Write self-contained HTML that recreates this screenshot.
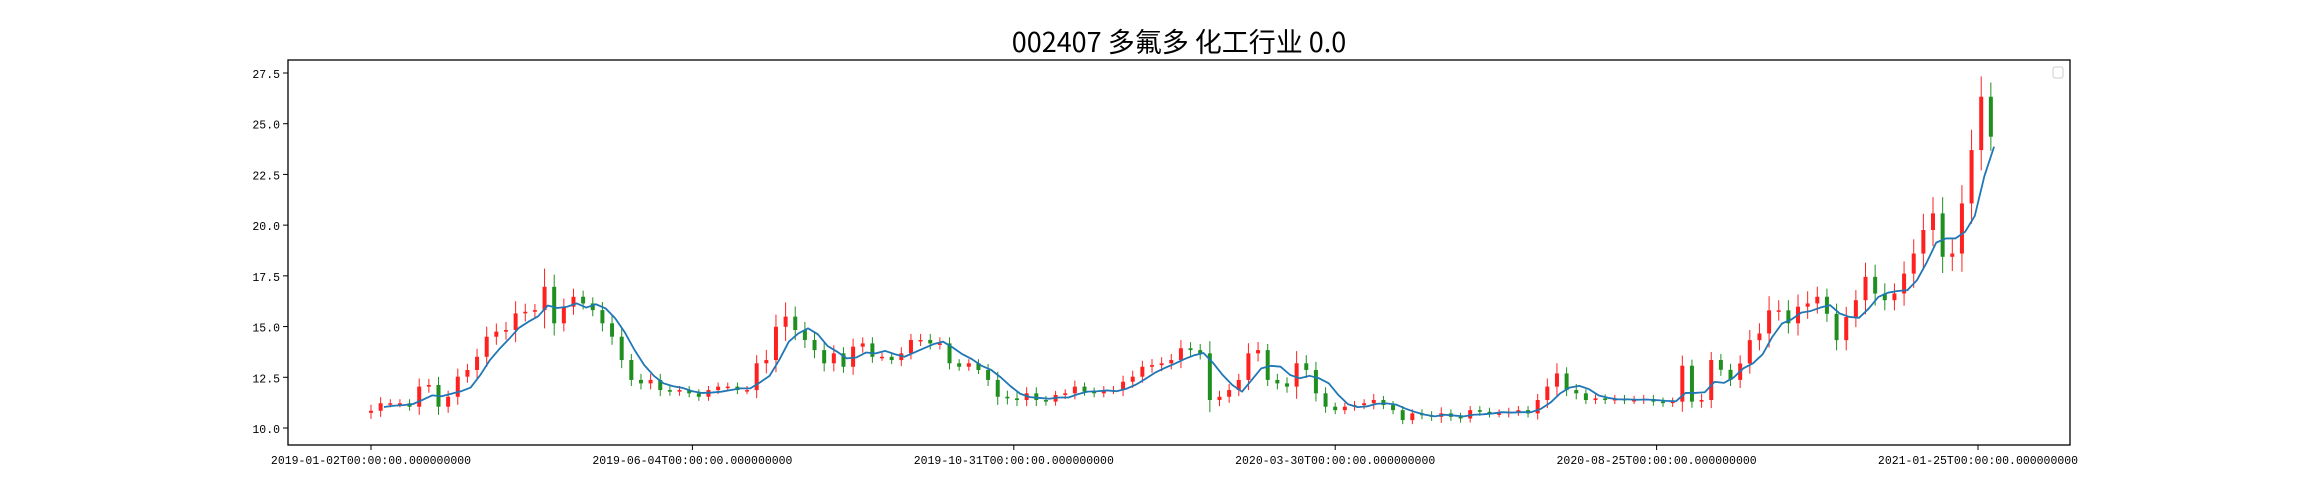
<!DOCTYPE html>
<html><head><meta charset="utf-8"><style>
body{margin:0;background:#fff;}
svg{display:block;}
text{font-family:"Liberation Mono","Noto Sans CJK SC",monospace;}
</style></head><body>
<svg id="chart" width="2300" height="500" xmlns="http://www.w3.org/2000/svg">
<rect width="2300" height="500" fill="#fff"/>
<text x="1179" y="52" text-anchor="middle" font-size="27" style="font-family:'Noto Sans CJK SC','Liberation Sans',sans-serif">002407 多氟多 化工行业 0.0</text>
<g id="marks"></g>
<rect x="288" y="60" width="1782" height="385" fill="none" stroke="#000" stroke-width="1.3"/>
<g id="axes"></g>
<rect x="2053" y="67" width="10" height="11" rx="2" fill="#fff" stroke="#ccc" stroke-width="1"/>
</svg>
<script>
const closes=[10.85,11.22,11.22,11.22,11.05,12.04,12.12,11.05,11.54,12.53,12.86,13.51,14.50,14.75,14.83,15.65,15.73,15.81,16.96,15.16,15.98,16.47,16.14,15.81,15.16,14.50,13.35,12.37,12.20,12.37,11.87,11.79,11.87,11.71,11.54,11.87,12.04,12.04,11.87,11.87,13.19,13.35,14.99,
15.49,14.83,14.34,13.84,13.19,13.68,13.02,14.01,14.17,13.51,13.51,13.35,13.68,14.34,14.34,14.17,14.17,13.19,13.02,13.19,12.86,12.37,11.54,11.46,11.38,11.71,11.38,11.30,11.63,11.71,12.04,11.79,11.71,11.87,11.87,12.28,12.53,13.02,13.10,13.19,13.35,13.93,
13.84,13.68,11.38,11.54,11.87,12.37,13.68,13.84,12.37,12.20,12.04,13.19,12.86,11.71,11.05,10.88,11.05,11.13,11.22,11.38,11.13,10.88,10.39,10.72,10.63,10.55,10.72,10.55,10.47,10.88,10.80,10.72,10.72,10.80,10.88,10.72,11.38,12.04,12.69,11.87,11.71,11.38,11.46,
11.38,11.43,11.38,11.38,11.43,11.30,11.24,11.30,13.07,11.30,11.38,13.35,12.87,12.37,13.18,14.33,14.66,15.80,15.80,15.16,15.98,16.14,16.47,15.63,14.33,15.47,16.30,17.45,16.63,16.30,16.63,17.61,18.60,19.76,20.58,18.44,18.60,21.07,23.70,26.33,24.36];
const wicks=[0.3,0.3,0.2,0.2,0.2,0.4,0.3,0.4,0.3,0.4,0.3,0.4,0.5,0.4,0.4,0.6,0.4,0.3,0.9,0.6,0.4,0.4,0.3,0.3,0.4,0.4,0.4,0.3,0.3,0.3,0.3,0.2,0.2,0.2,0.2,0.2,0.2,0.2,0.2,0.2,0.4,0.5,0.6,
0.7,0.5,0.4,0.4,0.4,0.4,0.3,0.4,0.3,0.3,0.2,0.2,0.3,0.3,0.3,0.3,0.3,0.3,0.2,0.2,0.2,0.3,0.4,0.3,0.3,0.3,0.3,0.2,0.2,0.2,0.3,0.2,0.2,0.2,0.2,0.3,0.3,0.3,0.3,0.3,0.3,0.4,
0.3,0.3,0.6,0.3,0.3,0.3,0.5,0.4,0.3,0.3,0.3,0.6,0.4,0.4,0.3,0.2,0.2,0.2,0.2,0.3,0.2,0.2,0.2,0.2,0.2,0.2,0.3,0.2,0.2,0.2,0.2,0.2,0.2,0.2,0.2,0.2,0.3,0.4,0.5,0.3,0.3,0.2,0.2,
0.2,0.2,0.2,0.2,0.2,0.2,0.2,0.2,0.5,0.3,0.3,0.4,0.3,0.3,0.4,0.5,0.5,0.7,0.5,0.5,0.6,0.6,0.5,0.4,0.5,0.5,0.5,0.7,0.6,0.5,0.5,0.6,0.7,0.8,0.8,0.8,0.7,0.9,1.0,1.0,0.7];
const yTicks=[10.0,12.5,15.0,17.5,20.0,22.5,25.0,27.5];
const xTickIdx=[0,100,200,300,400,500];
const xTickLabels=["2019-01-02T00:00:00.000000000","2019-06-04T00:00:00.000000000","2019-10-31T00:00:00.000000000","2020-03-30T00:00:00.000000000","2020-08-25T00:00:00.000000000","2021-01-25T00:00:00.000000000"];
const barsPerEntry=3;

const NS="http://www.w3.org/2000/svg";
const xPx=i=>371+i*3.214;
const yPx=v=>428-(v-10)*20.286;
const marks=document.getElementById('marks');
const axes=document.getElementById('axes');
function mk(tag,attrs,parent){const e=document.createElementNS(NS,tag);for(const k in attrs)e.setAttribute(k,attrs[k]);parent.appendChild(e);return e;}

closes.forEach((c,i)=>{
  const o=i===0?c-0.1:closes[i-1];
  const up=c>=o;
  const col=up?'#ff2020':'#1f8f1f';
  const x=xPx(i*barsPerEntry);
  const hi=Math.max(o,c)+wicks[i], lo=Math.min(o,c)-wicks[i];
  const w=mk('line',{x1:x,x2:x,y1:yPx(hi),y2:yPx(lo),stroke:col,'stroke-width':1},marks);
  
  
  const top=yPx(Math.max(o,c)),bot=yPx(Math.min(o,c));
  const b=mk('rect',{x:x-2,y:top,width:4,height:Math.max(1.5,bot-top),fill:col},marks);
  
  
});
let pts=[];
for(let i=1;i<closes.length;i++){
  const s=closes.slice(Math.max(0,i-3),i+1);
  const m=s.reduce((a,b)=>a+b,0)/s.length;
  pts.push(xPx(i*barsPerEntry+1)+','+yPx(m));
}
const ma=mk('polyline',{points:pts.join(' '),fill:'none',stroke:'#1f77b4','stroke-width':1.8,'stroke-linejoin':'round'},marks);



yTicks.forEach(v=>{
  const y=yPx(v);
  const t=mk('line',{x1:283,x2:288,y1:y,y2:y,stroke:'#000','stroke-width':1},axes);
  
  
  const l=mk('text',{x:280,y:y+5,'text-anchor':'end','font-size':'11.5'},axes);
  l.textContent=v.toFixed(1);
  
  
});
xTickIdx.forEach((ix,k)=>{
  const x=xPx(ix);
  const t=mk('line',{x1:x,x2:x,y1:445,y2:450,stroke:'#000','stroke-width':1},axes);
  
  
  const l=mk('text',{x:x,y:464,'text-anchor':'middle','font-size':'11.5'},axes);
  l.textContent=xTickLabels[k];
  
  
});
</script>
</body></html>
